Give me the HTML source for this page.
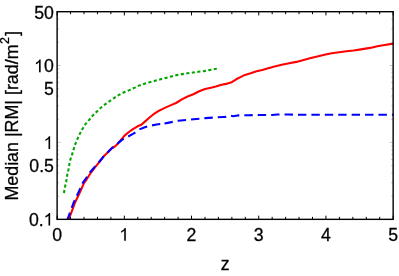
<!DOCTYPE html>
<html><head><meta charset="utf-8"><title>plot</title>
<style>
html,body{margin:0;padding:0;background:#fff;}
svg{display:block;}
text{font-family:"Liberation Sans",sans-serif;font-size:17.7px;fill:#000;stroke:#000;stroke-width:0.28px;}
</style></head><body>
<svg width="399" height="276" viewBox="0 0 399 276">
<rect x="0" y="0" width="399" height="276" fill="#fff"/>
<g fill="none" stroke-linejoin="round">
<path d="M63.9,193.0 L65.2,186.1 L66.2,181.5 L67.3,174.6 L68.4,169.9 L69.3,164.4 L70.5,159.0 L72.2,154.2 L73.9,148.3 L75.6,143.3 L77.8,138.2 L80.0,133.4 L82.6,128.7 L85.5,124.1" stroke="#00a600" stroke-width="2.1" stroke-dasharray="3.1 2.4"/>
<path d="M85.5,124.1 L89.4,119.6 L93.1,115.2 L97.2,111.2 L101.1,107.5 L105.4,104.2 L109.8,101.0 L114.4,97.8 L119.0,94.9 L124.0,92.3 L129.4,90.1 L134.9,87.6 L139.4,85.4 L144.5,83.7 L149.6,82.2 L155.0,80.8 L160.5,79.3 L165.9,77.9 L171.4,76.4 L176.8,75.1 L182.3,74.1 L187.4,73.3 L193.0,72.5 L198.3,71.8 L203.9,71.1 L209.2,70.1 L215.1,69.0 L216.8,68.8" stroke="#00a600" stroke-width="2.1" stroke-dasharray="3.13 2.44" stroke-dashoffset="1.32"/>
<path d="M68.7,219.3 L71.8,211.3 L74.7,203.3 L77.8,196.7 L80.8,190.2 L84.1,182.9 L86.7,179.3 L91.0,172.5 L95.4,166.8 L99.7,161.6 L103.3,156.8 L107.6,152.4 L112.0,148.0 L114.9,146.5 L117.5,143.9 L120.6,140.4 L124.5,135.6 L128.9,132.0 L133.3,128.8 L137.6,126.3 L141.3,124.7 L144.9,121.6 L149.2,117.8 L153.6,114.2 L158.0,111.3 L162.3,109.1 L165.8,107.4 L171.6,104.9 L176.0,103.0 L181.8,99.4 L187.6,96.5 L193.4,94.2 L199.2,91.2 L205.1,89.0 L210.9,87.7 L215.8,86.5 L221.6,84.8 L227.4,83.6 L231.8,82.2 L236.2,79.3 L240.5,77.1 L244.9,74.9 L250.7,73.2 L256.5,71.2 L262.3,69.9 L267.3,68.4 L274.5,66.5 L281.8,64.8 L289.1,63.2 L296.3,61.9 L303.6,60.0 L310.9,58.1 L317.3,56.5 L324.5,54.7 L331.8,53.3 L339.1,52.3 L346.3,51.3 L353.6,50.5 L360.9,49.4 L370.1,47.9 L377.3,46.3 L384.6,45.0 L393.2,43.6" stroke="#ff0000" stroke-width="2.1"/>
<path d="M67.5,219.3 L70.6,211.0 L73.5,203.0 L76.6,196.4 L79.6,189.9 L82.9,182.6 L85.5,179.0 L90.1,172.2 L94.9,166.6 L99.5,161.5 L103.3,156.8 L107.6,152.4 L112.0,148.0 L114.9,146.5 L117.5,143.8 L121.6,140.1 L126.0,137.7 L130.3,135.3 L134.7,132.8 L139.1,129.5 L144.9,127.2 L150.7,125.6 L156.5,124.5 L162.3,123.8" stroke="#0000ff" stroke-width="2.1" stroke-dasharray="8.3 5" stroke-dashoffset="1.2"/>
<path d="M162.3,123.8 L169.0,122.6 L178.0,120.8 L187.0,119.9 L196.1,119.0 L205.1,118.1 L214.1,117.5 L223.2,117.0 L226.0,116.9 L229.5,115.9 L231.0,115.8 L233.3,116.3 L236.0,115.8 L238.7,115.4 L248.5,115.2 L261.1,115.0 L272.0,115.0 L277.3,114.5 L288.2,114.5 L300.0,114.8 L393.2,114.8" stroke="#0000ff" stroke-width="2.1" stroke-dasharray="8.4 5.02" stroke-dashoffset="11.2"/>
</g>
<g stroke="#000" stroke-width="1" fill="none"><path d="M57.12,219.35 v-3.70 M57.12,11.70 v3.70"/><path d="M70.56,219.35 v-2.50 M70.56,11.70 v2.50"/><path d="M84.00,219.35 v-2.50 M84.00,11.70 v2.50"/><path d="M97.44,219.35 v-2.50 M97.44,11.70 v2.50"/><path d="M110.88,219.35 v-2.50 M110.88,11.70 v2.50"/><path d="M124.33,219.35 v-3.70 M124.33,11.70 v3.70"/><path d="M137.77,219.35 v-2.50 M137.77,11.70 v2.50"/><path d="M151.21,219.35 v-2.50 M151.21,11.70 v2.50"/><path d="M164.65,219.35 v-2.50 M164.65,11.70 v2.50"/><path d="M178.09,219.35 v-2.50 M178.09,11.70 v2.50"/><path d="M191.53,219.35 v-3.70 M191.53,11.70 v3.70"/><path d="M204.97,219.35 v-2.50 M204.97,11.70 v2.50"/><path d="M218.41,219.35 v-2.50 M218.41,11.70 v2.50"/><path d="M231.86,219.35 v-2.50 M231.86,11.70 v2.50"/><path d="M245.30,219.35 v-2.50 M245.30,11.70 v2.50"/><path d="M258.74,219.35 v-3.70 M258.74,11.70 v3.70"/><path d="M272.18,219.35 v-2.50 M272.18,11.70 v2.50"/><path d="M285.62,219.35 v-2.50 M285.62,11.70 v2.50"/><path d="M299.06,219.35 v-2.50 M299.06,11.70 v2.50"/><path d="M312.50,219.35 v-2.50 M312.50,11.70 v2.50"/><path d="M325.94,219.35 v-3.70 M325.94,11.70 v3.70"/><path d="M339.39,219.35 v-2.50 M339.39,11.70 v2.50"/><path d="M352.83,219.35 v-2.50 M352.83,11.70 v2.50"/><path d="M366.27,219.35 v-2.50 M366.27,11.70 v2.50"/><path d="M379.71,219.35 v-2.50 M379.71,11.70 v2.50"/><path d="M393.15,219.35 v-3.70 M393.15,11.70 v3.70"/></g>
<g stroke="#888" stroke-width="0.45" fill="none"><path d="M57.12,219.35 h3.60 M393.15,219.35 h-3.60"/><path d="M57.12,196.19 h2.00 M393.15,196.19 h-2.00"/><path d="M57.12,182.64 h2.00 M393.15,182.64 h-2.00"/><path d="M57.12,173.03 h2.00 M393.15,173.03 h-2.00"/><path d="M57.12,165.57 h2.00 M393.15,165.57 h-2.00"/><path d="M57.12,159.48 h2.00 M393.15,159.48 h-2.00"/><path d="M57.12,154.33 h2.00 M393.15,154.33 h-2.00"/><path d="M57.12,149.87 h2.00 M393.15,149.87 h-2.00"/><path d="M57.12,145.93 h2.00 M393.15,145.93 h-2.00"/><path d="M57.12,142.41 h3.60 M393.15,142.41 h-3.60"/><path d="M57.12,119.25 h2.00 M393.15,119.25 h-2.00"/><path d="M57.12,105.71 h2.00 M393.15,105.71 h-2.00"/><path d="M57.12,96.09 h2.00 M393.15,96.09 h-2.00"/><path d="M57.12,88.64 h2.00 M393.15,88.64 h-2.00"/><path d="M57.12,82.54 h2.00 M393.15,82.54 h-2.00"/><path d="M57.12,77.39 h2.00 M393.15,77.39 h-2.00"/><path d="M57.12,72.93 h2.00 M393.15,72.93 h-2.00"/><path d="M57.12,69.00 h2.00 M393.15,69.00 h-2.00"/><path d="M57.12,65.48 h3.60 M393.15,65.48 h-3.60"/><path d="M57.12,42.32 h2.00 M393.15,42.32 h-2.00"/><path d="M57.12,28.77 h2.00 M393.15,28.77 h-2.00"/><path d="M57.12,19.16 h2.00 M393.15,19.16 h-2.00"/><path d="M57.12,11.70 h2.00 M393.15,11.70 h-2.00"/></g>
<rect x="57.12" y="11.7" width="336.03" height="207.65" fill="none" stroke="#000" stroke-width="1.4"/>
<g style="filter:grayscale(1)">
<text x="53.90" y="18.65" text-anchor="end">50</text><path transform="translate(34.02,72.25) scale(0.008643,-0.008643)" d="M763,0 L583,0 L583,1147 Q518,1085 412.5,1023 Q307,961 223,930 L223,1104 Q374,1175 487,1276 Q600,1377 647,1472 L763,1472 Z" fill="#000" stroke="#000" stroke-width="9.3"/><text x="53.90" y="72.25" text-anchor="end">0</text><text x="53.90" y="95.33" text-anchor="end">5</text><path transform="translate(43.51,148.92) scale(0.008643,-0.008643)" d="M763,0 L583,0 L583,1147 Q518,1085 412.5,1023 Q307,961 223,930 L223,1104 Q374,1175 487,1276 Q600,1377 647,1472 L763,1472 Z" fill="#000" stroke="#000" stroke-width="9.3"/><text x="53.90" y="172.00" text-anchor="end">0.5</text><path transform="translate(43.51,225.60) scale(0.008643,-0.008643)" d="M763,0 L583,0 L583,1147 Q518,1085 412.5,1023 Q307,961 223,930 L223,1104 Q374,1175 487,1276 Q600,1377 647,1472 L763,1472 Z" fill="#000" stroke="#000" stroke-width="9.3"/><text x="43.71" y="225.60" text-anchor="end">0.</text>
<text x="57.1" y="240.7" text-anchor="middle">0</text><path transform="translate(119.21,240.70) scale(0.008643,-0.008643)" d="M763,0 L583,0 L583,1147 Q518,1085 412.5,1023 Q307,961 223,930 L223,1104 Q374,1175 487,1276 Q600,1377 647,1472 L763,1472 Z" fill="#000" stroke="#000" stroke-width="9.3"/><text x="191.5" y="240.7" text-anchor="middle">2</text><text x="258.7" y="240.7" text-anchor="middle">3</text><text x="325.9" y="240.7" text-anchor="middle">4</text><text x="393.1" y="240.7" text-anchor="middle">5</text>
<text x="225.1" y="270.2" text-anchor="middle">z</text>
<text transform="translate(18.3,200.6) rotate(-90)" style="font-size:17.87px">Median |RM| [rad/m</text><text transform="translate(9.1,43.9) rotate(-90)" style="font-size:12.4px">2</text><text transform="translate(18.3,36.1) rotate(-90)">]</text>
</g>
</svg>
</body></html>
